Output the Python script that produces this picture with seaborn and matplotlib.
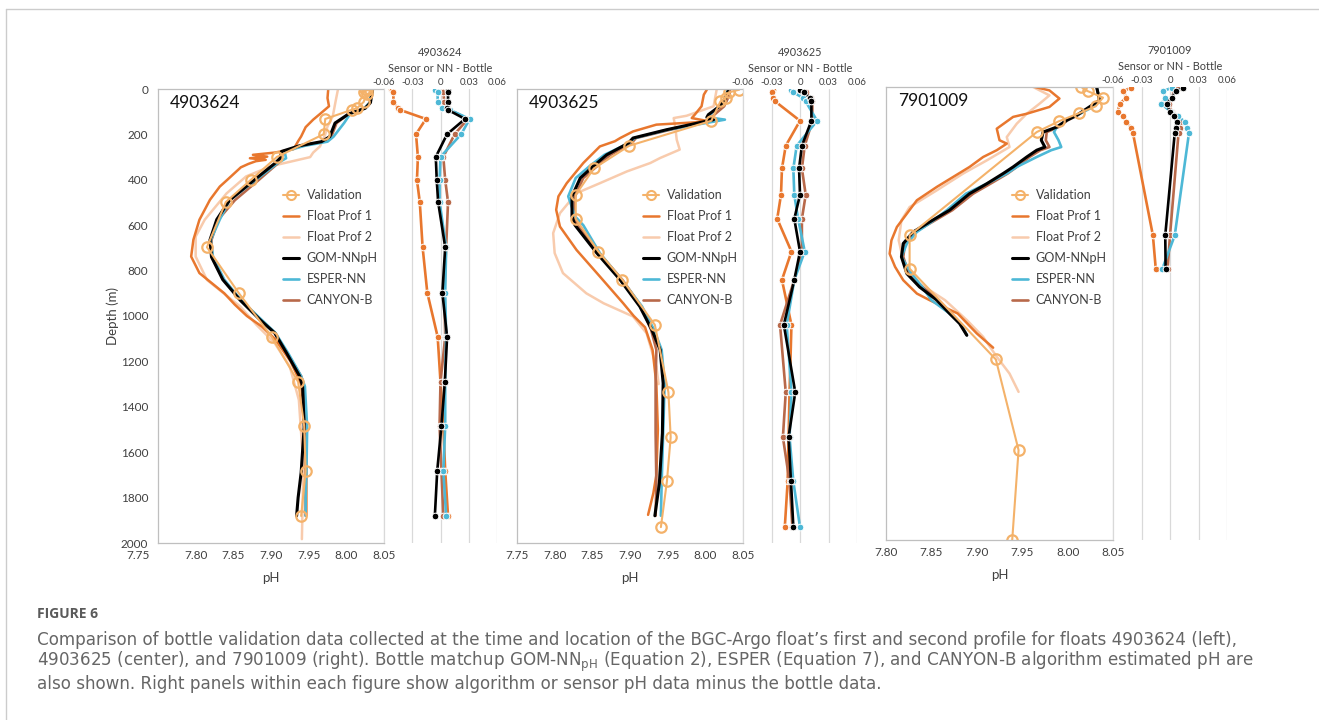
import numpy as np
import seaborn as sns
import matplotlib.pyplot as plt
from matplotlib.lines import Line2D
from matplotlib.ticker import MultipleLocator
from matplotlib.transforms import ScaledTranslation

# ---------------- data ----------------
# float 4903624
p1_val_depth = [0, 5, 12, 20, 57, 85, 92, 132, 199, 299, 401, 498, 697, 898, 1092, 1290, 1484, 1683, 1881]
p1_val_ph = [8.025, 8.028, 8.024, 8.027, 8.023, 8.014, 8.007, 7.972, 7.970, 7.908, 7.873, 7.840, 7.815,
             7.857, 7.901, 7.936, 7.944, 7.946, 7.940]
p1_f1_depth = [0, 40, 76, 110, 135, 168, 209, 230, 265, 280, 290, 298, 305, 312, 318, 330, 345, 400, 430,
               488, 576, 664, 738, 811, 900, 950, 1000, 1047, 1100, 1200, 1300, 1500, 1700, 1880]
p1_f1_ph = [7.976, 7.975, 7.977, 7.965, 7.956, 7.946, 7.940, 7.936, 7.930, 7.905, 7.876, 7.895, 7.872,
            7.893, 7.880, 7.870, 7.860, 7.842, 7.832, 7.819, 7.805, 7.797, 7.794, 7.805, 7.838, 7.852,
            7.868, 7.888, 7.905, 7.926, 7.940, 7.946, 7.947, 7.947]
p1_f2_depth = [0, 50, 120, 165, 200, 253, 280, 300, 340, 385, 460, 576, 650, 738, 841, 958, 1040, 1120,
               1223, 1370, 1664, 1983]
p1_f2_ph = [7.989, 7.986, 7.982, 7.975, 7.972, 7.965, 7.956, 7.952, 7.900, 7.867, 7.841, 7.812, 7.800,
            7.800, 7.815, 7.859, 7.881, 7.905, 7.925, 7.937, 7.943, 7.941]
p1_nn_depth = [0, 60, 85, 110, 150, 210, 232, 250, 275, 305, 328, 400, 490, 575, 665, 740, 840, 930,
               1015, 1075, 1165, 1265, 1310, 1490, 1690, 1800, 1880]
p1_gom_ph = [8.035, 8.032, 8.025, 8.003, 7.985, 7.978, 7.967, 7.938, 7.914, 7.912, 7.905, 7.878, 7.845,
             7.828, 7.819, 7.821, 7.836, 7.859, 7.885, 7.905, 7.921, 7.938, 7.942, 7.944, 7.940, 7.936,
             7.934]
p1_esper_ph = [8.034, 8.031, 8.024, 8.005, 7.997, 7.983, 7.975, 7.945, 7.918, 7.920, 7.908, 7.880,
               7.845, 7.832, 7.820, 7.823, 7.838, 7.860, 7.887, 7.906, 7.923, 7.940, 7.945, 7.948,
               7.947, 7.946, 7.946]
p1_canyon_ph = [8.034, 8.031, 8.024, 8.003, 7.987, 7.980, 7.970, 7.942, 7.916, 7.914, 7.909, 7.884,
                7.852, 7.830, 7.821, 7.822, 7.837, 7.860, 7.886, 7.905, 7.922, 7.940, 7.944, 7.946,
                7.946, 7.946, 7.946]
p1_diff_depth = [0, 5, 12, 57, 85, 92, 132, 199, 299, 401, 498, 697, 898, 1092, 1290, 1484, 1683, 1881]
p1_diff_f1 = [-0.053, -0.052, -0.050, -0.050, -0.045, -0.043, -0.0155, -0.026, -0.024, -0.025, -0.022,
              -0.019, -0.014, -0.003, 0.000, 0.003, 0.005, 0.008]
p1_diff_gom = [0.008, 0.008, 0.008, 0.008, 0.007, 0.008, 0.026, 0.007, -0.005, -0.004, -0.0025, 0.005,
               0.002, 0.007, 0.0046, 0.001, -0.0035, -0.006]
p1_diff_esper = [-0.004, -0.006, -0.003, -0.003, 0.002, 0.010, 0.031, 0.022, 0.000, -0.001, -0.001,
                 0.006, 0.005, 0.006, 0.005, 0.005, 0.003, 0.006]
p1_diff_canyon = [0.001, 0.002, 0.003, 0.004, 0.008, 0.010, 0.029, 0.015, 0.003, 0.005, 0.008, 0.006,
                  0.004, 0.005, 0.000, -0.001, 0.001, 0.003]

# float 4903625
p2_val_depth = [3, 15, 40, 55, 140, 250, 350, 466, 572, 716, 841, 1039, 1336, 1534, 1729, 1930]
p2_val_ph = [8.045, 8.031, 8.027, 8.020, 8.008, 7.899, 7.852, 7.828, 7.828, 7.858, 7.890, 7.933, 7.951,
             7.954, 7.949, 7.941]
p2_f1_depth = [3, 25, 76, 113, 128, 143, 157, 187, 216, 230, 253, 326, 415, 473, 532, 606, 709, 826, 944,
               1000, 1050, 1150, 1300, 1500, 1700, 1780, 1876]
p2_f1_ph = [8.002, 7.998, 7.995, 7.986, 7.982, 8.006, 7.935, 7.904, 7.887, 7.880, 7.860, 7.838, 7.816,
            7.805, 7.802, 7.807, 7.829, 7.860, 7.891, 7.905, 7.920, 7.930, 7.935, 7.937, 7.935, 7.931,
            7.924]
p2_f2_depth = [3, 76, 118, 128, 165, 223, 267, 304, 326, 363, 415, 459, 547, 635, 723, 811, 900, 944,
               1002, 1076, 1223, 1300]
p2_f2_ph = [8.015, 8.011, 7.975, 7.958, 7.960, 7.962, 7.966, 7.940, 7.927, 7.896, 7.860, 7.829, 7.807,
            7.798, 7.800, 7.811, 7.842, 7.865, 7.904, 7.922, 7.935, 7.938]
p2_nn_depth = [10, 40, 76, 113, 125, 135, 179, 216, 238, 290, 341, 392, 473, 561, 600, 723, 841, 958,
               1061, 1149, 1296, 1516, 1736, 1880]
p2_gom_ph = [8.030, 8.027, 8.019, 8.004, 8.002, 8.011, 7.949, 7.904, 7.898, 7.869, 7.851, 7.834, 7.823,
             7.823, 7.827, 7.856, 7.887, 7.913, 7.929, 7.940, 7.944, 7.943, 7.939, 7.933]
p2_esper_ph = [8.029, 8.026, 8.018, 8.006, 8.004, 8.026, 7.951, 7.906, 7.899, 7.866, 7.846, 7.828,
               7.818, 7.827, 7.838, 7.860, 7.889, 7.916, 7.932, 7.942, 7.946, 7.944, 7.942, 7.941]
p2_canyon_ph = [8.033, 8.030, 8.025, 8.012, 8.008, 8.013, 7.954, 7.908, 7.902, 7.874, 7.856, 7.838,
                7.827, 7.826, 7.830, 7.859, 7.890, 7.915, 7.928, 7.935, 7.934, 7.934, 7.935, 7.934]
p2_diff_depth = p2_val_depth
p2_diff_f1 = [-0.028, -0.030, -0.028, -0.026, 0.000, -0.015, -0.019, -0.020, -0.024, -0.009, -0.019,
              -0.009, -0.011, -0.012, -0.013, -0.016]
p2_diff_gom = [0.000, 0.004, 0.011, 0.012, 0.012, 0.002, -0.001, 0.000, -0.006, 0.000, -0.006, -0.017,
               -0.005, -0.012, -0.0095, -0.007]
p2_diff_esper = [-0.009, -0.007, 0.0035, 0.006, 0.018, -0.0035, -0.007, -0.006, -0.002, 0.005, -0.006,
                 -0.014, -0.009, -0.011, -0.007, 0.000]
p2_diff_canyon = [0.002, 0.006, 0.012, 0.013, 0.013, 0.005, 0.002, 0.006, 0.002, 0.002, -0.006, -0.021,
                  -0.015, -0.018, -0.011, -0.008]

# float 7901009
p3_val_depth = [0, 18, 47, 85, 115, 152, 199, 655, 802, 1203, 1603, 2000]
p3_val_ph = [8.015, 8.022, 8.039, 8.031, 8.013, 7.990, 7.966, 7.826, 7.826, 7.921, 7.946, 7.939]
p3_f1_depth = [0, 15, 51, 88, 118, 132, 184, 235, 250, 279, 309, 353, 397, 441, 500, 559, 618, 677, 736,
               794, 853, 912, 941, 1000, 1088, 1151]
p3_f1_ph = [7.964, 7.980, 7.991, 7.980, 7.955, 7.940, 7.922, 7.925, 7.933, 7.922, 7.907, 7.892, 7.874,
            7.856, 7.834, 7.823, 7.812, 7.806, 7.804, 7.810, 7.819, 7.834, 7.848, 7.879, 7.900, 7.918]
p3_f2_depth = [0, 37, 74, 118, 162, 221, 265, 324, 382, 456, 530, 588, 677, 765, 868, 941, 1029, 1103,
               1191, 1265, 1346]
p3_f2_ph = [7.962, 7.980, 7.969, 7.955, 7.944, 7.933, 7.936, 7.911, 7.885, 7.856, 7.826, 7.817, 7.814,
            7.819, 7.837, 7.865, 7.889, 7.907, 7.922, 7.936, 7.946]
p3_nn_depth = [0, 37, 59, 88, 125, 147, 177, 199, 235, 265, 279, 309, 353, 382, 427, 471, 544, 596, 640,
               691, 750, 824, 883, 941, 1000, 1044, 1096]
p3_gom_ph = [8.032, 8.034, 8.035, 8.024, 8.010, 7.999, 7.988, 7.973, 7.971, 7.975, 7.966, 7.955, 7.940,
             7.929, 7.911, 7.892, 7.870, 7.848, 7.830, 7.819, 7.817, 7.823, 7.837, 7.856, 7.870, 7.881,
             7.889]
p3_esper_ph = [8.032, 8.034, 8.035, 8.028, 8.010, 7.999, 7.988, 7.985, 7.990, 7.993, 7.982, 7.966,
               7.944, 7.933, 7.911, 7.888, 7.867, 7.850, 7.834, 7.823, 7.817, 7.828, 7.840, 7.850,
               7.870, 7.882, 7.889]
p3_canyon_ph = [8.032, 8.034, 8.035, 8.025, 8.011, 8.000, 7.990, 7.977, 7.976, 7.980, 7.970, 7.958,
                7.944, 7.934, 7.915, 7.896, 7.873, 7.851, 7.832, 7.821, 7.819, 7.825, 7.840, 7.858,
                7.872, 7.882, 7.889]
p3_diff_depth = [3, 18, 47, 74, 110, 129, 154, 179, 203, 655, 802]
p3_diff_f1 = [-0.041, -0.049, -0.046, -0.053, -0.055, -0.049, -0.046, -0.041, -0.039, -0.018, -0.015]
p3_diff_gom = [0.014, 0.006, 0.002, -0.0035, 0.000, 0.004, 0.007, 0.006, 0.005, -0.005, -0.0046]
p3_diff_esper = [0.002, -0.007, -0.005, -0.009, 0.001, 0.008, 0.016, 0.018, 0.020, 0.005, -0.008]
p3_diff_canyon = [0.008, 0.004, 0.002, -0.001, 0.002, 0.006, 0.012, 0.010, 0.009, 0.000, -0.0025]

floats = ['4903624', '4903625', '7901009']
series_names = ['Validation', 'Float Prof 1', 'Float Prof 2', 'GOM-NNpH', 'ESPER-NN', 'CANYON-B']
ph_ticks_wide = [7.75, 7.80, 7.85, 7.90, 7.95, 8.00, 8.05]
ph_ticks_narrow = [7.80, 7.85, 7.90, 7.95, 8.00, 8.05]
diff_ticks = [-0.06, -0.03, 0, 0.03, 0.06]
diff_labels = ['-0.06', '-0.03', '0', '0.03', '0.06']
depth_ticks = list(range(0, 2001, 200))

caption_title = 'FIGURE 6'
caption_lines = [
    "Comparison of bottle validation data collected at the time and location of the BGC-Argo float\u2019s "
    "first and second profile for floats 4903624 (left),",
    "4903625 (center), and 7901009 (right). Bottle matchup GOM-NN$_{\\mathregular{pH}}$ (Equation 2), "
    "ESPER (Equation 7), and CANYON-B algorithm estimated pH are",
    "also shown. Right panels within each figure show algorithm or sensor pH data minus the bottle data.",
]

# ---------------- style ----------------
sns.set_style('white')
plt.rcParams['font.family'] = ['Lato', 'DejaVu Sans']
C_VAL = '#F4B26A'
C_F1 = '#E8772E'
C_F2 = '#F8CBAD'
C_GOM = '#000000'
C_ESP = '#4DB8D6'
C_CAN = '#B8694A'
SPINE = '#BFBFBF'
TXT = '#404040'

W, H = 1319, 720
fig = plt.figure(figsize=(W / 100, H / 100), dpi=100)


def rect(x0, x1, y0, y1):
    return [x0 / W, 1 - y1 / H, (x1 - x0) / W, (y1 - y0) / H]


def prof(ax, ph, depth, color, lw, **kw):
    sns.lineplot(x=ph, y=depth, sort=False, estimator=None, color=color, lw=lw, ax=ax,
                 legend=False, **kw)


def diff(ax, d, depth, color, lw=1.9):
    sns.lineplot(x=d, y=depth, sort=False, estimator=None, color=color, lw=lw, ax=ax, legend=False,
                 marker='o', ms=4.8, mec='white', mew=0.7)


panels = [
    dict(main=rect(158, 384, 89, 543), dax=rect(384, 497, 89, 543), xmin=7.75, xt=ph_ticks_wide,
         val=(p1_val_ph, p1_val_depth), f1=(p1_f1_ph, p1_f1_depth), f2=(p1_f2_ph, p1_f2_depth),
         nn=p1_nn_depth, gom=p1_gom_ph, esp=p1_esper_ph, can=p1_canyon_ph,
         dd=p1_diff_depth, df1=p1_diff_f1, dgom=p1_diff_gom, desp=p1_diff_esper, dcan=p1_diff_canyon,
         leg=(0.553, 0.779)),
    dict(main=rect(517, 743, 89, 543), dax=rect(743, 857, 89, 543), xmin=7.75, xt=ph_ticks_wide,
         val=(p2_val_ph, p2_val_depth), f1=(p2_f1_ph, p2_f1_depth), f2=(p2_f2_ph, p2_f2_depth),
         nn=p2_nn_depth, gom=p2_gom_ph, esp=p2_esper_ph, can=p2_canyon_ph,
         dd=p2_diff_depth, df1=p2_diff_f1, dgom=p2_diff_gom, desp=p2_diff_esper, dcan=p2_diff_canyon,
         leg=(0.558, 0.779)),
    dict(main=rect(886, 1113, 87, 540), dax=rect(1113, 1227, 87, 540), xmin=7.80, xt=ph_ticks_narrow,
         val=(p3_val_ph, p3_val_depth), f1=(p3_f1_ph, p3_f1_depth), f2=(p3_f2_ph, p3_f2_depth),
         nn=p3_nn_depth, gom=p3_gom_ph, esp=p3_esper_ph, can=p3_canyon_ph,
         dd=p3_diff_depth, df1=p3_diff_f1, dgom=p3_diff_gom, desp=p3_diff_esper, dcan=p3_diff_canyon,
         leg=(0.555, 0.775)),
]

for i, p in enumerate(panels):
    ax = fig.add_axes(p['main'])
    prof(ax, p['f2'][0], p['f2'][1], C_F2, 1.8)
    prof(ax, p['f1'][0], p['f1'][1], C_F1, 1.8)
    prof(ax, p['can'], p['nn'], C_CAN, 1.9)
    prof(ax, p['esp'], p['nn'], C_ESP, 1.9)
    prof(ax, p['gom'], p['nn'], C_GOM, 2.2)
    prof(ax, p['val'][0], p['val'][1], C_VAL, 1.5, marker='o', ms=7.5, mfc='none', mec=C_VAL, mew=1.6)

    ax.set_xlim(p['xmin'], 8.05)
    ax.set_ylim(2000, 0)
    ax.set_xticks(p['xt'])
    ax.set_xticklabels(['%.2f' % v for v in p['xt']])
    ax.xaxis.set_minor_locator(MultipleLocator(0.025))
    ax.set_yticks(depth_ticks)
    ax.set_yticks(list(range(100, 2000, 200)), minor=True)
    ax.tick_params(axis='x', which='both', direction='in', length=4, color=SPINE, labelsize=8.5,
                   labelcolor=TXT, pad=5)
    ax.tick_params(axis='y', which='major', length=0, labelsize=8.5, labelcolor=TXT, pad=7)
    ax.tick_params(axis='y', which='minor', direction='in', length=4, color=SPINE)
    for s in ax.spines.values():
        s.set_color(SPINE)
        s.set_linewidth(0.9)
    ax.set_xlabel('pH', fontsize=9.5, color=TXT, labelpad=8)
    if i == 0:
        ax.set_ylabel('Depth (m)', fontsize=9.5, color=TXT, labelpad=1)
        lab = ax.get_xticklabels()[0]
        lab.set_transform(lab.get_transform() + ScaledTranslation(-0.2, 0, fig.dpi_scale_trans))
    else:
        ax.set_ylabel('')
        ax.set_yticklabels([])
    ax.text(0.053, 0.969, floats[i], transform=ax.transAxes, fontsize=12.5, va='center', ha='left',
            color='#111111')

    handles = [
        Line2D([], [], color=C_VAL, lw=1.5, marker='o', ms=6.5, mfc='none', mec=C_VAL, mew=1.5),
        Line2D([], [], color=C_F1, lw=1.8),
        Line2D([], [], color=C_F2, lw=1.8),
        Line2D([], [], color=C_GOM, lw=2.2),
        Line2D([], [], color=C_ESP, lw=1.9),
        Line2D([], [], color=C_CAN, lw=1.9),
    ]
    leg = ax.legend(handles, series_names, loc='upper left', bbox_to_anchor=p['leg'], frameon=False,
                    fontsize=9, handlelength=1.3, handletextpad=0.6, labelspacing=0.72,
                    borderaxespad=0, borderpad=0)
    for t in leg.get_texts():
        t.set_color(TXT)

    dax = fig.add_axes(p['dax'], sharey=ax)
    diff(dax, p['df1'], p['dd'], C_F1)
    diff(dax, p['dcan'], p['dd'], C_CAN)
    diff(dax, p['desp'], p['dd'], C_ESP)
    diff(dax, p['dgom'], p['dd'], C_GOM)
    dax.set_xlim(-0.06, 0.06)
    dax.set_xticks(diff_ticks)
    dax.set_xticklabels(diff_labels)
    dax.xaxis.tick_top()
    dax.tick_params(axis='x', length=0, labelsize=7, labelcolor=TXT, pad=1.5)
    dax.tick_params(axis='y', left=False, labelleft=False)
    dax.grid(axis='x', color='#D9D9D9', lw=0.9)
    dax.grid(axis='y', visible=False)
    dax.set_xlabel('')
    dax.set_ylabel('')
    for s in dax.spines.values():
        s.set_visible(False)
    dax.annotate('Sensor or NN - Bottle', (0.5, 1), xycoords='axes fraction', xytext=(0, 15),
                 textcoords='offset points', ha='center', va='center', fontsize=7.8, color=TXT)
    dax.annotate(floats[i], (0.5, 1), xycoords='axes fraction', xytext=(0, 26.5),
                 textcoords='offset points', ha='center', va='center', fontsize=7.8, color=TXT)

# frame around the figure block
fig.add_artist(Line2D([6 / W, 1], [1 - 9 / H, 1 - 9 / H], color='#CCCCCC', lw=1))
fig.add_artist(Line2D([6 / W, 6 / W], [0, 1 - 9 / H], color='#CCCCCC', lw=1))

fig.text(37 / W, 1 - 614 / H, caption_title, fontsize=10, fontweight='bold', color='#5A5A5A',
         va='center', ha='left', family=['Open Sans', 'DejaVu Sans'])
for k, line in enumerate(caption_lines):
    fig.text(37 / W, 1 - (640 + 22 * k) / H, line, fontsize=12.1, color='#666666', va='center',
             ha='left', family=['DejaVu Sans'])

fig.savefig('out.png', dpi=100)
